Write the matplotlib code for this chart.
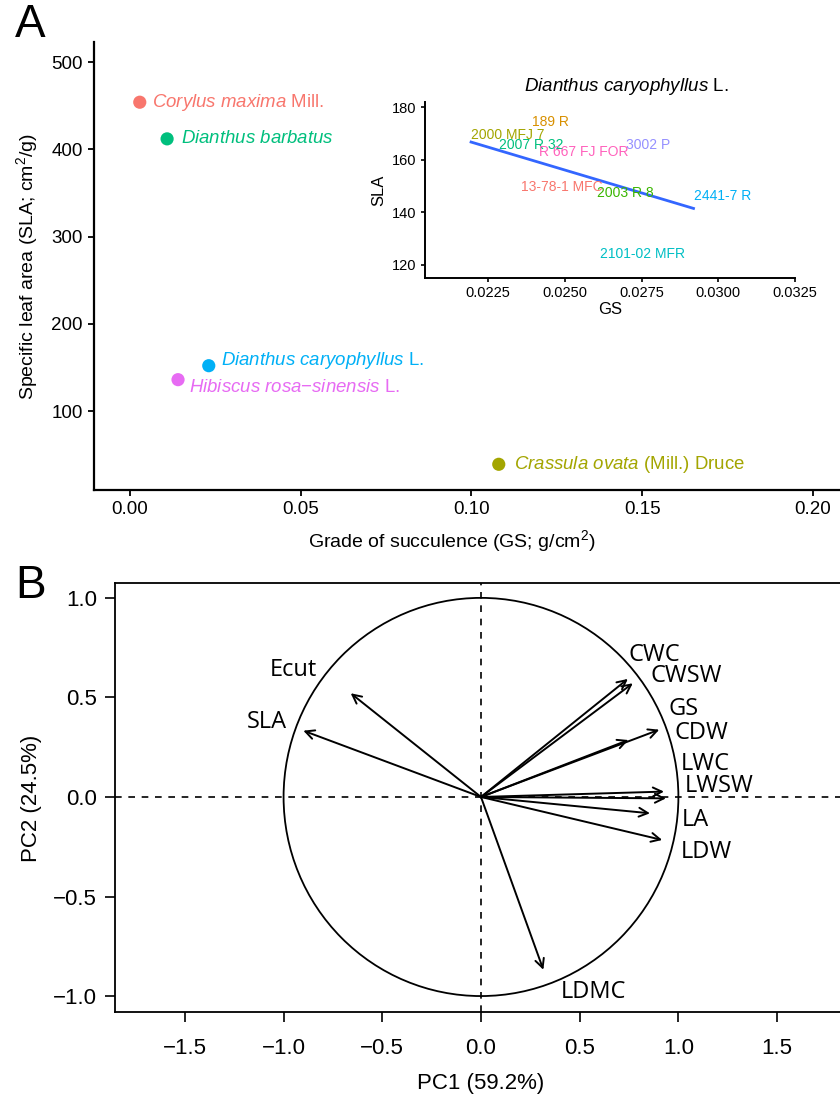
import numpy as np
import matplotlib
matplotlib.use('Agg')
import matplotlib.pyplot as plt
from matplotlib.patches import Circle

plt.rcParams['font.family'] = ['Liberation Sans', 'DejaVu Sans']
plt.rcParams['mathtext.fontset'] = 'custom'
plt.rcParams['mathtext.rm'] = 'Liberation Sans'
plt.rcParams['mathtext.it'] = 'Liberation Sans:italic'

# Panel A: species means
species_labels = [r'$\it{Corylus\ maxima}$ Mill.',
                  r'$\it{Dianthus\ barbatus}$',
                  r'$\it{Dianthus\ caryophyllus}$ L.',
                  r'$\it{Hibiscus\ rosa{-}sinensis}$ L.',
                  r'$\it{Crassula\ ovata}$ (Mill.) Druce']
species_gs = [0.0029, 0.0109, 0.0231, 0.0141, 0.1080]
species_sla = [454, 412, 152, 136, 39]
species_colors = ['#F8766D', '#00BF7D', '#00B0F6', '#E76BF3', '#A3A500']
label_offsets = [(9, 0), (10, 0), (9, 4), (8, -6), (11, 0)]  # points

# inset: Dianthus caryophyllus cultivars
cultivars = ['13-78-1 MFC', '189 R', '2000 MFJ 7', '2003 R 8', '2007 R 32',
             '2101-02 MFR', '2441-7 R', '3002 P', 'R 667 FJ FOR']
cult_gs = [0.02356, 0.02391, 0.02194, 0.02606, 0.02285,
           0.02614, 0.02919, 0.02699, 0.02417]
cult_sla = [149.8, 174.3, 169.4, 147.5, 165.6, 124.0, 146.2, 165.6, 163.1]
cult_colors = ['#F8766D', '#D89000', '#A3A500', '#39B600', '#00BF7D',
               '#00BFC4', '#00B0F6', '#9590FF', '#FF62BC']

# Panel B: PCA correlation circle
variables = ['Ecut', 'SLA', 'CWC', 'CWSW', 'GS', 'CDW',
             'LWC', 'LWSW', 'LA', 'LDW', 'LDMC']
pc1 = [-0.660, -0.900, 0.744, 0.769, 0.747, 0.903,
       0.927, 0.937, 0.856, 0.918, 0.316]
pc2 = [0.521, 0.333, 0.593, 0.571, 0.286, 0.338,
       0.027, -0.007, -0.082, -0.216, -0.868]
lab_x = [-0.952, -1.084, 0.876, 1.038, 1.028, 1.118,
         1.135, 1.207, 1.088, 1.140, 0.569]
lab_y = [0.638, 0.377, 0.714, 0.610, 0.442, 0.322,
         0.166, 0.057, -0.114, -0.275, -0.978]

fig = plt.figure(figsize=(8.4, 10.97), dpi=100)

# ---- Panel A
axA = fig.add_axes([0.1119, 0.5533, 0.8881, 0.4084])
axA.scatter(species_gs, species_sla, s=90, c=species_colors, zorder=3, linewidths=0)
for x, y, lab, col, off in zip(species_gs, species_sla, species_labels,
                               species_colors, label_offsets):
    axA.annotate(lab, (x, y), xytext=off, textcoords='offset points',
                 ha='left', va='center', color=col, fontsize=13.4)
axA.set_xlim(-0.0105, 0.2079)
axA.set_ylim(9.5, 523)
axA.set_xticks([0.00, 0.05, 0.10, 0.15, 0.20])
axA.set_xticklabels(['0.00', '0.05', '0.10', '0.15', '0.20'])
axA.set_yticks([100, 200, 300, 400, 500])
for s in ['top', 'right']:
    axA.spines[s].set_visible(False)
for s in ['left', 'bottom']:
    axA.spines[s].set_linewidth(1.6)
axA.tick_params(length=4, width=1.3, labelsize=13.5, pad=4)
fig.text(0.538, 1 - 541 / 1097, 'Grade of succulence (GS; g/cm$^2$)',
         ha='center', va='center', fontsize=14)
fig.text(27 / 840, 1 - 266 / 1097, 'Specific leaf area (SLA; cm$^2$/g)',
         ha='center', va='center', rotation=90, fontsize=14)
fig.text(30 / 840, 1 - 25 / 1097, 'A', ha='center', va='center', fontsize=33)

# inset
axI = fig.add_axes([0.506, 0.7466, 0.4405, 0.1604])
for x, y, lab, col in zip(cult_gs, cult_sla, cultivars, cult_colors):
    axI.text(x, y, lab, ha='left', va='center', color=col, fontsize=10)
coef = np.polyfit(cult_gs, cult_sla, 1)
xs = np.array([min(cult_gs), max(cult_gs)])
axI.plot(xs, np.polyval(coef, xs), color='#3366FF', lw=2)
axI.set_xlim(0.02044, 0.0325)
axI.set_ylim(115, 182)
axI.set_xticks([0.0225, 0.0250, 0.0275, 0.0300, 0.0325])
axI.set_xticklabels(['0.0225', '0.0250', '0.0275', '0.0300', '0.0325'])
axI.set_yticks([120, 140, 160, 180])
for s in ['top', 'right']:
    axI.spines[s].set_visible(False)
for s in ['left', 'bottom']:
    axI.spines[s].set_linewidth(1.4)
axI.tick_params(length=3, width=1.2, labelsize=10.5, pad=3)
axI.set_xlabel('GS', fontsize=12, labelpad=1)
axI.set_ylabel('SLA', fontsize=12, labelpad=4)
axI.set_title(r'$\it{Dianthus\ caryophyllus}$ L.', fontsize=13.5, pad=8, x=0.543)

# ---- Panel B
axB = fig.add_axes([0.1369, 0.0775, 0.8714, 0.3911])
axB.add_patch(Circle((0, 0), 1, fill=False, lw=1.3, color='black'))
axB.axhline(0, color='black', lw=1.2, ls=(0, (4, 4)))
axB.axvline(0, color='black', lw=1.2, ls=(0, (4, 4)))
for x, y in zip(pc1, pc2):
    axB.annotate('', xy=(x, y), xytext=(0, 0),
                 arrowprops=dict(arrowstyle='->', lw=1.4, color='black',
                                 mutation_scale=16, shrinkA=0, shrinkB=0))
for x, y, lab in zip(lab_x, lab_y, variables):
    axB.text(x, y, lab, ha='center', va='center', fontsize=17,
             family=['Open Sans', 'DejaVu Sans'])
axB.set_xlim(-1.854, 1.854)
axB.set_ylim(-1.08, 1.075)
axB.set_xticks([-1.5, -1.0, -0.5, 0.0, 0.5, 1.0, 1.5])
axB.set_xticklabels(['\u22121.5', '\u22121.0', '\u22120.5', '0.0', '0.5', '1.0', '1.5'])
axB.set_yticks([-1.0, -0.5, 0.0, 0.5, 1.0])
axB.set_yticklabels(['\u22121.0', '\u22120.5', '0.0', '0.5', '1.0'])
for s in axB.spines.values():
    s.set_linewidth(1.3)
axB.tick_params(length=7, width=1.2, labelsize=16)
axB.tick_params(axis='x', pad=12)
axB.tick_params(axis='y', pad=6)
fig.text(481 / 840, 1 - 1083 / 1097, 'PC1 (59.2%)', ha='center', va='center', fontsize=16)
fig.text(31 / 840, 1 - 798 / 1097, 'PC2 (24.5%)', ha='center', va='center',
         rotation=90, fontsize=16)
fig.text(31 / 840, 1 - 586 / 1097, 'B', ha='center', va='center', fontsize=33)

fig.savefig('out.png', dpi=100)
